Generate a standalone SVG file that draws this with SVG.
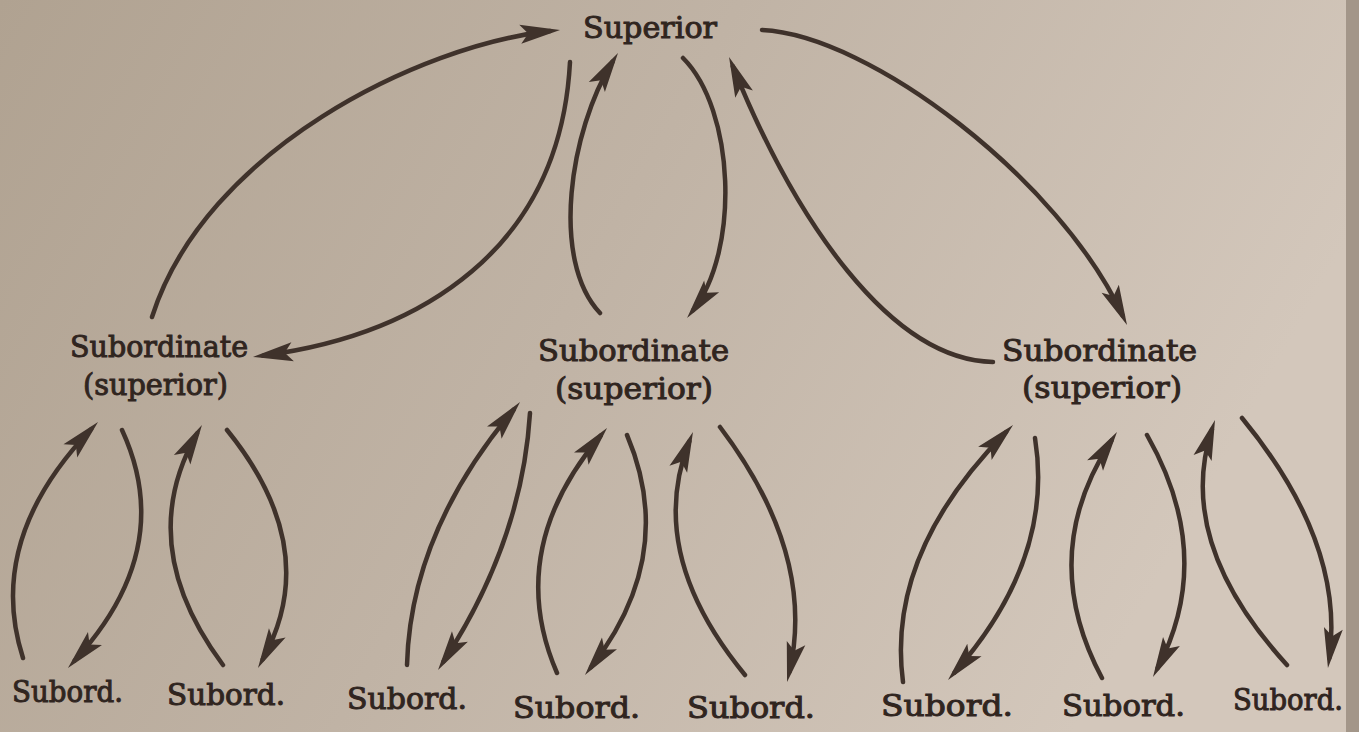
<svg xmlns="http://www.w3.org/2000/svg" width="1359" height="732" viewBox="0 0 1359 732">
  <defs>
    <linearGradient id="paper" x1="0" y1="0" x2="1" y2="0.3">
      <stop offset="0" stop-color="#b0a291"/>
      <stop offset="0.5" stop-color="#c0b3a5"/>
      <stop offset="1" stop-color="#d3c7bb"/>
    </linearGradient>
    <marker id="head" markerUnits="userSpaceOnUse" markerWidth="50" markerHeight="26" viewBox="-44 -13 50 26" refX="-10" refY="0" orient="auto" overflow="visible">
      <path d="M0,0 L-40,-9.5 L-32,0 L-40,9.5 Z" fill="#3f322b"/>
    </marker>
    <style>
      .lbl { font-family: "DejaVu Serif", "Liberation Serif", serif; font-size: 30px; fill: #30251f; stroke: #30251f; stroke-width: 1; }
      .con { fill: none; stroke: #3f322b; stroke-width: 4.5; stroke-linecap: round; marker-end: url(#head); }
    </style>
  </defs>

  <rect x="0" y="0" width="1359" height="732" fill="url(#paper)"/>
  <rect x="1346" y="0" width="13" height="732" fill="#a39689"/>

  <g id="connectors">
    <!-- top level -->
    <path class="con" d="M152,317 C205,150 420,45 550.1,31.1"/>
    <path class="con" d="M570,62 C560,250 420,335 262.9,355.7"/>
    <path class="con" d="M600,313 C550,260 570,130 612.7,61.5"/>
    <path class="con" d="M683,58 C735,110 740,250 693.2,310.1"/>
    <path class="con" d="M993,362 C890,360 795,220 732.8,66.3"/>
    <path class="con" d="M762,30 C870,35 1060,180 1122.8,315.9"/>
    <!-- left group -->
    <path class="con" d="M23,658 Q-15,540 91.1,429.2"/>
    <path class="con" d="M122,430 Q177,549 74.7,660.6"/>
    <path class="con" d="M223,665 Q133.5,545 197,433.7"/>
    <path class="con" d="M227,430 Q323.5,549 262.8,659.2"/>
    <!-- middle group -->
    <path class="con" d="M407,665 Q410.5,532.5 513.6,409.7"/>
    <path class="con" d="M530,413 Q522,541.5 443.5,661.6"/>
    <path class="con" d="M557,673 Q504,550.5 600.6,435.7"/>
    <path class="con" d="M627,435 Q678,555 591.1,667.1"/>
    <path class="con" d="M745,675 Q645,553.5 689.3,441.3"/>
    <path class="con" d="M720,427 Q816.5,554.5 789.3,672.3"/>
    <!-- right group -->
    <path class="con" d="M903,682 Q886,553.5 1006,432.1"/>
    <path class="con" d="M1035,438 Q1054.5,559 954.6,672.5"/>
    <path class="con" d="M1102,678 Q1036.5,555 1111.5,440.4"/>
    <path class="con" d="M1147,435 Q1216,556 1157.6,668.1"/>
    <path class="con" d="M1287,665 Q1175,542.5 1211.9,429.5"/>
    <path class="con" d="M1242,418 Q1345,543 1329.3,658.1"/>
  </g>

  <g id="superior">
    <text class="lbl" x="583" y="38" textLength="134" lengthAdjust="spacingAndGlyphs">Superior</text>
  </g>

  <g id="sub-left">
    <text class="lbl" x="70" y="357" textLength="178" lengthAdjust="spacingAndGlyphs">Subordinate</text>
    <text class="lbl" x="83" y="395" textLength="145" lengthAdjust="spacingAndGlyphs">(superior)</text>
  </g>
  <g id="sub-middle">
    <text class="lbl" x="538" y="361" textLength="191" lengthAdjust="spacingAndGlyphs">Subordinate</text>
    <text class="lbl" x="555" y="399" textLength="158" lengthAdjust="spacingAndGlyphs">(superior)</text>
  </g>
  <g id="sub-right">
    <text class="lbl" x="1002" y="361" textLength="195" lengthAdjust="spacingAndGlyphs">Subordinate</text>
    <text class="lbl" x="1022" y="398" textLength="160" lengthAdjust="spacingAndGlyphs">(superior)</text>
  </g>

  <g id="subord-1"><text class="lbl" x="12" y="702" textLength="111" lengthAdjust="spacingAndGlyphs">Subord.</text></g>
  <g id="subord-2"><text class="lbl" x="167" y="705" textLength="118" lengthAdjust="spacingAndGlyphs">Subord.</text></g>
  <g id="subord-3"><text class="lbl" x="347" y="709" textLength="120" lengthAdjust="spacingAndGlyphs">Subord.</text></g>
  <g id="subord-4"><text class="lbl" x="513" y="718" textLength="127" lengthAdjust="spacingAndGlyphs">Subord.</text></g>
  <g id="subord-5"><text class="lbl" x="687" y="718" textLength="128" lengthAdjust="spacingAndGlyphs">Subord.</text></g>
  <g id="subord-6"><text class="lbl" x="881" y="716" textLength="132" lengthAdjust="spacingAndGlyphs">Subord.</text></g>
  <g id="subord-7"><text class="lbl" x="1062" y="716" textLength="123" lengthAdjust="spacingAndGlyphs">Subord.</text></g>
  <g id="subord-8"><text class="lbl" x="1233" y="710" textLength="110" lengthAdjust="spacingAndGlyphs">Subord.</text></g>
</svg>
